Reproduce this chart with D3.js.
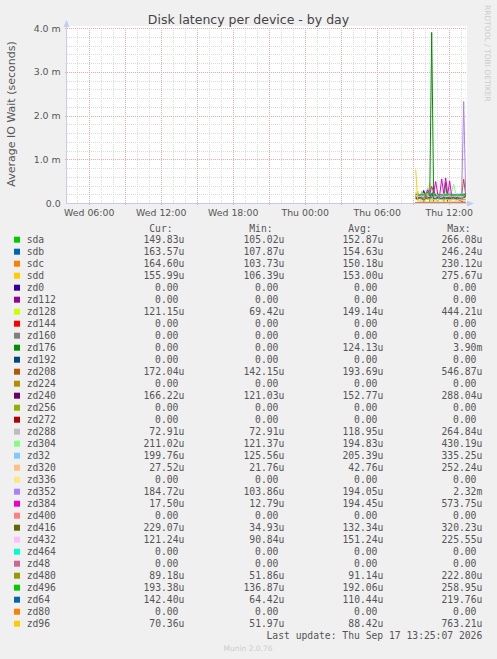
<!DOCTYPE html>
<html>
<head>
<meta charset="utf-8">
<script src="https://cdn.jsdelivr.net/npm/d3@7"></script>
<style>
  body { margin: 0; background: #f0f0f0; }
  svg text { font-family: "DejaVu Sans", sans-serif; }
  .mono { font-family: "DejaVu Sans Mono", monospace; font-size: 9.7px; fill: #555; }
</style>
</head>
<body>
<svg id="chart"></svg>
<script>
// samples every 10 minutes, Thu 09:15 .. Thu 13:25, values in microseconds
const sampleStart = new Date(2026, 8, 17, 9, 15);
const sampleStepMin = 10;

const zeroes = [0,0,0,0,0,0,0,0,0,0,0,0,0,0,0,0,0,0,0,0,0,0,0,0,0,0];
const sda   = [180,150,140,160,266,130,150,170,140,120,155,160,105,150,145,170,160,140,150,165,155,135,150,160,140,150];
const sdb   = [140,150,160,170,130,150,246,140,155,160,150,108,145,160,170,150,140,165,155,150,160,150,140,170,155,164];
const sdc   = [130,140,150,160,150,230,140,145,150,104,150,160,140,155,150,145,160,150,140,150,155,145,150,160,150,165];
const sdd   = [150,276,140,150,160,145,150,106,155,150,160,150,145,150,160,140,150,155,145,150,160,150,140,155,150,156];
const zd128 = [120,140,150,130,160,150,140,444,130,120,150,140,69,150,160,130,140,150,120,140,150,160,130,140,150,121];
const zd176 = [0,0,0,0,0,0,0,0,3900,0,0,0,0,0,0,480,0,0,0,0,0,0,0,0,0,0];
const zd208 = [180,170,190,200,185,175,190,200,180,142,190,195,185,175,180,190,200,185,170,180,190,185,175,180,547,172];
const zd240 = [150,140,160,150,288,145,150,155,140,150,160,121,150,145,155,150,160,140,150,155,145,150,160,150,145,166];
const zd288 = [120,130,110,265,120,115,125,110,120,130,115,120,110,125,120,115,130,110,120,125,115,120,110,100,90,73];
const zd304 = [180,190,200,170,180,190,200,121,185,190,200,180,195,190,200,210,190,200,260,430,220,190,200,180,190,211];
const zd32  = [200,210,190,220,200,210,335,200,190,210,200,220,126,200,210,190,200,220,210,200,190,210,200,220,210,200];
const zd320 = [252,40,30,35,40,30,25,40,35,30,40,35,30,22,35,40,30,35,40,30,35,30,40,35,30,28];
const zd352 = [160,150,170,180,104,160,170,150,160,170,180,160,150,170,160,180,170,160,150,170,180,160,170,200,2320,185];
const zd384 = [100,120,140,150,160,180,300,200,380,250,490,200,180,550,220,574,200,500,150,120,100,80,60,40,13,17.5];
const zd416 = [120,130,110,140,35,130,140,120,130,320,140,130,120,110,130,140,120,130,140,110,120,130,140,150,180,229];
const zd432 = [150,160,140,155,150,226,145,150,160,140,150,155,91,150,160,145,150,155,160,140,150,155,145,150,140,121];
const zd480 = [90,80,100,85,90,223,80,90,95,85,90,52,90,85,95,90,80,90,85,95,90,85,90,80,85,89];
const zd496 = [200,190,180,200,190,210,259,190,180,200,190,137,190,200,180,190,210,190,180,200,190,185,195,190,200,193];
const zd64  = [110,100,120,110,64,100,110,120,220,110,100,120,110,100,115,110,105,100,110,120,100,110,105,115,120,142];
const zd96  = [763,80,60,70,52,80,90,70,60,80,70,60,80,70,60,75,80,60,70,80,60,70,75,60,65,70];

const devices = ["sda","sdb","sdc","sdd","zd0","zd112","zd128","zd144","zd160","zd176","zd192",
  "zd208","zd224","zd240","zd256","zd272","zd288","zd304","zd32","zd320","zd336","zd352","zd384",
  "zd400","zd416","zd432","zd464","zd48","zd480","zd496","zd64","zd80","zd96"];
const colors = ["#00CC00","#0066B3","#FF8000","#FFCC00","#330099","#990099","#CCFF00","#FF0000",
  "#808080","#008F00","#00487D","#B35A00","#B38F00","#6B006B","#8FB300","#B30000","#BEBEBE",
  "#80FF80","#80C9FF","#FFC080","#FFE680","#AA80FF","#EE00CC","#FF8080","#666600","#FFBFFF",
  "#00FFCC","#CC6699","#999900","#00CC00","#0066B3","#FF8000","#FFCC00"];
const series = [sda, sdb, sdc, sdd, zeroes, zeroes, zd128, zeroes, zeroes, zd176, zeroes,
  zd208, zeroes, zd240, zeroes, zeroes, zd288, zd304, zd32, zd320, zeroes, zd352, zd384,
  zeroes, zd416, zd432, zeroes, zeroes, zd480, zd496, zd64, zeroes, zd96];

// legend columns as munin prints them
const curText = ["149.83u","163.57u","164.60u","155.99u","0.00","0.00","121.15u","0.00","0.00","0.00","0.00",
  "172.04u","0.00","166.22u","0.00","0.00","72.91u","211.02u","199.76u","27.52u","0.00","184.72u","17.50u",
  "0.00","229.07u","121.24u","0.00","0.00","89.18u","193.38u","142.40u","0.00","70.36u"];
const minText = ["105.02u","107.87u","103.73u","106.39u","0.00","0.00","69.42u","0.00","0.00","0.00","0.00",
  "142.15u","0.00","121.03u","0.00","0.00","72.91u","121.37u","125.56u","21.76u","0.00","103.86u","12.79u",
  "0.00","34.93u","90.84u","0.00","0.00","51.86u","136.87u","64.42u","0.00","51.97u"];
const avgText = ["152.87u","154.63u","150.18u","153.00u","0.00","0.00","149.14u","0.00","0.00","124.13u","0.00",
  "193.69u","0.00","152.77u","0.00","0.00","118.95u","194.83u","205.39u","42.76u","0.00","194.05u","194.45u",
  "0.00","132.34u","151.24u","0.00","0.00","91.14u","192.06u","110.44u","0.00","88.42u"];
const maxText = ["266.08u","246.24u","230.12u","275.67u","0.00","0.00","444.21u","0.00","0.00","3.90m","0.00",
  "546.87u","0.00","288.04u","0.00","0.00","264.84u","430.19u","335.25u","252.24u","0.00","2.32m","573.75u",
  "0.00","320.23u","225.55u","0.00","0.00","222.80u","258.95u","219.76u","0.00","763.21u"];
const colHeads = ["Cur:","Min:","Avg:","Max:"];

const W = 497, H = 659;
const plot = { left: 66.7, right: 466.7, top: 28, bottom: 203 };
const charW = 5.86;

const svg = d3.select("#chart").attr("width", W).attr("height", H);

const x = d3.scaleTime()
  .domain([new Date(2026, 8, 16, 4, 10), new Date(2026, 8, 17, 13, 30)])
  .range([plot.left, plot.right]);
const y = d3.scaleLinear().domain([0, 4e-3]).range([plot.bottom, plot.top]);

// canvas
svg.append("rect")
  .attr("x", 66).attr("y", 26)
  .attr("width", 401).attr("height", plot.bottom - 26)
  .attr("fill", "#fff");

// grid: minor grey, major red, both dotted
const grid = svg.append("g").attr("shape-rendering", "crispEdges");
const minorC = "#dcdcdc", majorC = "#f0a8a8";

x.ticks(d3.timeHour.every(1)).forEach(t => {
  if (t.getHours() % 3 === 0) return;
  grid.append("line").attr("x1", Math.round(x(t)) + 0.5).attr("x2", Math.round(x(t)) + 0.5)
    .attr("y1", plot.top).attr("y2", plot.bottom)
    .attr("stroke", minorC).attr("stroke-dasharray", "1,1");
});
d3.range(0, 4.01e-3, 0.2e-3).forEach((v, i) => {
  if (i % 5 === 0) return;
  grid.append("line").attr("x1", plot.left).attr("x2", plot.right)
    .attr("y1", Math.round(y(v)) + 0.5).attr("y2", Math.round(y(v)) + 0.5)
    .attr("stroke", minorC).attr("stroke-dasharray", "1,1");
});
x.ticks(d3.timeHour.every(3)).forEach(t => {
  const px = Math.round(x(t)) + 0.5;
  grid.append("line").attr("x1", px).attr("x2", px)
    .attr("y1", plot.top).attr("y2", plot.bottom + 2)
    .attr("stroke", majorC).attr("stroke-dasharray", "1,1");
});
y.ticks(4).forEach(v => {
  if (v === 0) return;
  const py = Math.round(y(v)) + 0.5;
  grid.append("line").attr("x1", plot.left - 2).attr("x2", plot.right)
    .attr("y1", py).attr("y2", py)
    .attr("stroke", majorC).attr("stroke-dasharray", "1,1");
});

// series lines, drawn in legend order so the last ones sit on top
const sampleTime = i => new Date(sampleStart.getTime() + i * sampleStepMin * 60000);
const line = d3.line()
  .x((d, i) => x(sampleTime(i)))
  .y(d => y(d * 1e-6));

svg.append("g").selectAll("path")
  .data(series)
  .join("path")
  .attr("d", line)
  .attr("fill", "none")
  .attr("stroke", (d, i) => colors[i])
  .attr("stroke-width", 1);

// axes with arrows
const axisC = "#c4ccf4";
svg.append("line").attr("x1", 66.5).attr("x2", 66.5).attr("y1", plot.bottom).attr("y2", 24)
  .attr("stroke", axisC);
svg.append("path").attr("d", "M63.5,27 L69.5,27 L66.5,20 Z").attr("fill", axisC);
svg.append("line").attr("x1", 66).attr("x2", 470).attr("y1", 203.5).attr("y2", 203.5)
  .attr("stroke", axisC);
svg.append("path").attr("d", "M467,200.5 L467,206.5 L474,203.5 Z").attr("fill", axisC);

const xAxis = d3.axisBottom(x)
  .ticks(d3.timeHour.every(6))
  .tickFormat(d3.timeFormat("%a %H:%M"))
  .tickSize(0).tickPadding(6);
svg.append("g").attr("transform", `translate(0,${plot.bottom})`).call(xAxis)
  .call(g => g.select(".domain").remove())
  .selectAll("text")
  .attr("font-family", "DejaVu Sans").attr("font-size", 9.4).attr("fill", "#555");

const yAxis = d3.axisLeft(y)
  .ticks(4)
  .tickFormat(v => v === 0 ? "0.0" : (v * 1e3).toFixed(1) + " m")
  .tickSize(0).tickPadding(6);
svg.append("g").attr("transform", `translate(${plot.left},0)`).call(yAxis)
  .call(g => g.select(".domain").remove())
  .selectAll("text")
  .attr("font-family", "DejaVu Sans").attr("font-size", 9.4).attr("fill", "#555");

// titles
svg.append("text").attr("x", 248.5).attr("y", 23.5)
  .attr("text-anchor", "middle").attr("font-size", 12.5).attr("fill", "#444")
  .text("Disk latency per device - by day");
svg.append("text")
  .attr("transform", "translate(11,114) rotate(-90)")
  .attr("text-anchor", "middle").attr("dominant-baseline", "central")
  .attr("font-size", 11).attr("fill", "#555")
  .text("Average IO Wait (seconds)");
svg.append("text")
  .attr("transform", "translate(487,5) rotate(90)")
  .attr("dominant-baseline", "central")
  .attr("font-size", 7.5).attr("fill", "#ccc")
  .text("RRDTOOL / TOBI OETIKER");

// legend
const colRight = [184.3, 284.3, 383.3, 482.3];
const rowY = i => 239.7 + i * 12;
const legend = svg.append("g");

colHeads.forEach((h, c) => {
  legend.append("text").attr("class", "mono")
    .attr("x", colRight[c] - 2 * charW).attr("y", 228 + 3.5)
    .attr("text-anchor", "end").text(h);
});

const rows = legend.selectAll("g.row").data(devices).join("g").attr("class", "row");
rows.append("rect")
  .attr("x", 14).attr("y", (d, i) => rowY(i) - 3)
  .attr("width", 6).attr("height", 6)
  .attr("fill", (d, i) => colors[i]);
rows.append("text").attr("class", "mono")
  .attr("x", 26.7).attr("y", (d, i) => rowY(i) + 3.5)
  .text(d => d);

[curText, minText, avgText, maxText].forEach((col, c) => {
  rows.append("text").attr("class", "mono")
    .attr("x", (d, i) => colRight[c] - (/[um]$/.test(col[i]) ? 0 : charW))
    .attr("y", (d, i) => rowY(i) + 3.5)
    .attr("text-anchor", "end")
    .text((d, i) => col[i]);
});

legend.append("text").attr("class", "mono")
  .attr("x", 482.3).attr("y", 635.3 + 3.5).attr("text-anchor", "end")
  .text("Last update: Thu Sep 17 13:25:07 2026");

svg.append("text").attr("x", 248).attr("y", 650.5)
  .attr("text-anchor", "middle").attr("font-size", 7.5).attr("fill", "#ccc")
  .text("Munin 2.0.76");
</script>
</body>
</html>
